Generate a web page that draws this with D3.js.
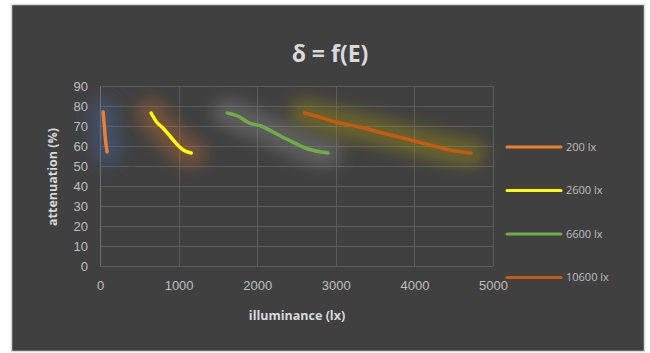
<html>
  <head>
    <title>delta = f(E)</title>
    <script type="text/javascript" src="https://cdn.jsdelivr.net/npm/d3@7"></script>
    <style type="text/css">

body {
  margin: 0;
  background: #fff;
  font-family: "Open Sans", "Liberation Sans", sans-serif;
}

.grid line {
  stroke: #5b5b5b;
  stroke-width: 1px;
  shape-rendering: crispEdges;
}

.tick text {
  fill: #bfbfbf;
  font-size: 13px;
}

.series {
  fill: none;
  stroke-width: 3.5px;
  stroke-linecap: round;
  stroke-linejoin: round;
}

    </style>
  </head>
  <body>
    <script type="text/javascript">

// series names and values (lux, attenuation %)
var names = ["200 lx", "2600 lx", "6600 lx", "10600 lx"];
var colors = ["#ed7d31", "#ffff00", "#70ad47", "#c55a11"];
var glows = ["#4472c4", "#ed7d31", "#a5a5a5", "#c8b400"];

var s200 = [[40, 77], [55, 70], [70, 63], [90, 57]];
var s2600 = [[650, 76.5], [720, 72], [800, 69], [900, 64.5], [1000, 60], [1060, 58], [1160, 56.5]];
var s6600 = [[1620, 76.5], [1750, 75], [1900, 71.5], [2050, 70], [2200, 67], [2400, 63], [2650, 58.5], [2900, 56.5]];
var s10600 = [[2600, 76.5], [2750, 75], [3000, 72], [3300, 69.5], [3600, 66.5], [3900, 63.5], [4200, 60.5], [4450, 58], [4720, 56.5]];
var series = [s200, s2600, s6600, s10600];

var xTicks = [0, 1000, 2000, 3000, 4000, 5000];
var yTicks = [0, 10, 20, 30, 40, 50, 60, 70, 80, 90];

var W = 650, H = 353;

var svg = d3.select("body")
  .append("svg")
    .attr("width", W)
    .attr("height", H);

var defs = svg.append("defs");
defs.append("filter")
    .attr("id", "glow")
    .attr("filterUnits", "userSpaceOnUse")
    .attr("x", 0).attr("y", 0)
    .attr("width", W).attr("height", H)
  .append("feGaussianBlur")
    .attr("stdDeviation", 8);

// chart background
svg.append("rect")
    .attr("x", 11.5)
    .attr("y", 4.5)
    .attr("width", 633)
    .attr("height", 347)
    .attr("fill", "#404040")
    .attr("stroke", "#d9d9d9")
    .attr("stroke-width", 1.5);

svg.append("text")
    .attr("x", 330)
    .attr("y", 62)
    .attr("text-anchor", "middle")
    .attr("fill", "#d9d9d9")
    .style("font-size", "23px")
    .style("font-weight", "bold")
    .text("δ = f(E)");

var x = d3.scaleLinear().domain([0, 5000]).range([100, 493]);
var y = d3.scaleLinear().domain([0, 90]).range([266, 86]);

var grid = svg.append("g").attr("class", "grid");

grid.selectAll("line.h")
    .data(yTicks)
  .enter().append("line")
    .attr("class", "h")
    .attr("x1", x(0))
    .attr("x2", x(5000))
    .attr("y1", function(d) { return Math.round(y(d)) + 0.5; })
    .attr("y2", function(d) { return Math.round(y(d)) + 0.5; });

grid.selectAll("line.v")
    .data(xTicks)
  .enter().append("line")
    .attr("class", "v")
    .attr("y1", y(0))
    .attr("y2", y(90))
    .attr("x1", function(d) { return Math.round(x(d)) + 0.5; })
    .attr("x2", function(d) { return Math.round(x(d)) + 0.5; })
    .style("stroke", function(d) { return d === 0 ? "#6e6e6e" : null; });

var xAxis = svg.append("g")
    .attr("transform", "translate(0," + y(0) + ")")
    .call(d3.axisBottom(x).tickValues(xTicks).tickFormat(d3.format("d")).tickSize(0).tickPadding(15));
xAxis.select(".domain").remove();

var yAxis = svg.append("g")
    .attr("transform", "translate(" + x(0) + ",0)")
    .call(d3.axisLeft(y).tickValues(yTicks).tickFormat(d3.format("d")).tickSize(0).tickPadding(12));
yAxis.select(".domain").remove();
svg.selectAll(".tick text").style("font-family", "inherit");

svg.append("text")
    .attr("x", 297)
    .attr("y", 320)
    .attr("text-anchor", "middle")
    .attr("fill", "#d9d9d9")
    .style("font-size", "12.5px")
    .style("font-weight", "bold")
    .text("illuminance (lx)");

svg.append("text")
    .attr("transform", "translate(57,177) rotate(-90)")
    .attr("text-anchor", "middle")
    .attr("fill", "#d9d9d9")
    .style("font-size", "12.5px")
    .style("font-weight", "bold")
    .text("attenuation (%)");

var line = d3.line()
    .x(function(d) { return x(d[0]); })
    .y(function(d) { return y(d[1]); })
    .curve(d3.curveMonotoneX);

// soft glow behind each series
svg.selectAll("path.glow")
    .data(series)
  .enter().append("path")
    .attr("class", "glow")
    .attr("d", line)
    .attr("fill", "none")
    .attr("stroke", function(d, i) { return glows[i]; })
    .attr("stroke-width", 28)
    .attr("stroke-linecap", "round")
    .attr("stroke-linejoin", "round")
    .attr("stroke-opacity", 0.3)
    .attr("filter", "url(#glow)");

svg.selectAll("path.series")
    .data(series)
  .enter().append("path")
    .attr("class", "series")
    .attr("d", line)
    .attr("stroke", function(d, i) { return colors[i]; });

// legend
var legend = svg.selectAll("g.legend")
    .data(names)
  .enter().append("g")
    .attr("class", "legend")
    .attr("transform", function(d, i) { return "translate(507," + (147 + i * 43.5) + ")"; });

legend.append("line")
    .attr("x1", 0)
    .attr("x2", 54)
    .attr("stroke", function(d, i) { return colors[i]; })
    .attr("stroke-width", 3)
    .attr("stroke-linecap", "round");

legend.append("text")
    .attr("x", 59)
    .attr("dy", ".35em")
    .attr("fill", "#bfbfbf")
    .style("font-size", "11px")
    .text(function(d) { return d; });

    </script>
  </body>
</html>
